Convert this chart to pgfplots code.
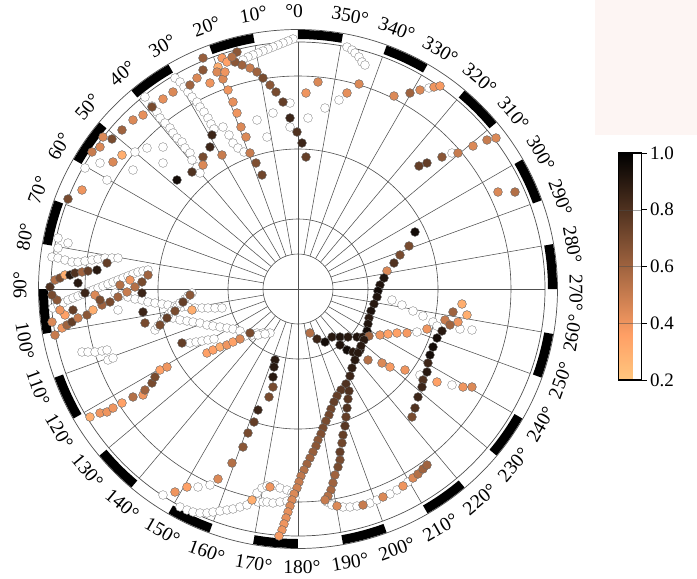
\documentclass[border=0pt]{standalone}
\usepackage{fontspec}
\setmainfont{Liberation Serif}
\usepackage{pgfplots}
\usepackage{pgfplotstable}
\pgfplotsset{compat=1.18}
\usepgfplotslibrary{polar}
\definecolor{pinkbg}{RGB}{253,245,243}
\definecolor{gridc}{RGB}{80,80,80}

\pgfplotsset{colormap={copperr}{rgb255(0cm)=(255,199,127); rgb255(2cm)=(255,159,101); rgb255(10cm)=(0,0,0)}}

\pgfplotstableread{
X Y C
237 52 0.65
242 65 0.60
250 68 0.50
257 72 0.60
263 78 0.70
270 85 0.65
276 92 0.70
283 102 0.75
290 118 0.85
297 132 0.80
302 143 0.85
306 157 0.75
223 79 0.45
228 90 0.40
233 102 0.42
237 113 0.40
241 127 0.45
246 137 0.45
250 153 0.50
256 163 0.68
262 175 0.72
203 58 0.62
203 70 0.65
197 78 0.45
190 85 0.60
218 67 0.30
217 72 0.45
225 72 0.40
222 58 0.38
227 62 0.35
235 62 0.65
210 83 0.40
232 57 0.55
173 92 0.45
163 99 0.42
152 107 0.70
143 115 0.42
133 120 0.45
122 130 0.60
112 139 0.70
103 137 0.45
100 147 0.45
92 152 0.50
113 162 0.45
122 155 0.30
82 190 0.40
68 199 0.70
177 180 0.95
212 135 0.85
210 147 0.85
203 157 0.70
203 165 0.45
192 172 0.80
222 155 0.50
306 93 0.40
318 82 0.45
347 93 0.42
359 84 0.45
394 96 0.45
410 93 0.60
420 90 0.45
434 87 0.40
440 86 0.38
419 166 0.75
427 163 0.75
442 157 0.65
458 153 0.50
473 146 0.45
487 140 0.50
496 138 0.45
498 192 0.45
515 192 0.55
415 232 0.95
409 246 0.70
400 255 0.70
394 263 0.80
387 271 0.45
384 278 0.92
380 285 0.92
378 291 0.95
377 297 0.92
374 304 0.90
371 311 0.93
369 318 0.90
368 324 0.92
367 331 0.95
310 333 0.55
317 339 0.85
325 342 0.95
332 337 0.90
340 337 0.92
348 337 0.90
357 337 0.92
363 337 0.90
369 336 0.60
380 335 0.40
388 334 0.35
397 333 0.35
407 333 0.38
427 329 0.40
445 320 0.50
453 312 0.60
462 304 0.30
467 315 0.30
458 322 0.40
340 345 0.92
347 350 0.95
353 352 0.90
360 350 0.90
368 360 0.55
382 363 0.45
390 367 0.38
405 370 0.40
437 382 0.35
463 387 0.40
472 387 0.45
450 325 0.60
442 331 0.90
437 338 0.95
433 347 0.95
430 355 0.95
428 363 0.85
427 372 0.90
423 380 0.80
422 387 0.85
418 397 0.85
415 408 0.80
412 417 0.70
364 340 0.90
361 346 0.90
358 353 0.90
355 360 0.90
352 368 0.88
350 376 0.85
346 384 0.80
341 390 0.78
337 396 0.75
334 402 0.75
331 409 0.72
329 415 0.72
326 421 0.70
323 428 0.70
321 434 0.68
318 440 0.65
316 446 0.65
313 452 0.62
310 458 0.60
307 464 0.60
304 470 0.55
301 476 0.52
299 482 0.50
297 488 0.48
294 494 0.45
292 500 0.45
290 506 0.45
288 512 0.42
286 518 0.42
284 524 0.40
282 530 0.40
279 536 0.38
349 391 0.80
348 399 0.78
347 408 0.80
346 417 0.75
345 426 0.78
343 435 0.75
342 443 0.72
340 452 0.75
340 460 0.70
338 467 0.70
335 475 0.60
333 483 0.60
331 490 0.58
328 496 0.55
325 500 0.50
337 506 0.45
363 505 0.50
383 497 0.45
403 486 0.40
413 478 0.45
418 474 0.55
423 469 0.60
427 465 0.60
275 360 0.90
274 367 0.90
273 377 0.90
273 387 0.70
269 397 0.70
258 410 0.85
254 422 0.75
248 433 0.70
243 447 0.65
232 463 0.55
218 479 0.45
175 492 0.40
187 487 0.35
252 500 0.30
270 487 0.40
182 343 0.75
207 353 0.35
213 350 0.35
220 347 0.30
227 345 0.40
233 342 0.35
240 339 0.45
250 333 0.70
143 312 0.85
145 323 0.70
192 310 0.30
160 325 0.70
167 318 0.75
175 311 0.70
183 302 0.75
190 295 0.65
90 417 0.30
100 413 0.40
107 412 0.40
113 408 0.40
122 403 0.35
133 397 0.55
143 395 0.40
145 390 0.60
152 383 0.70
155 377 0.70
160 370 0.35
167 367 0.40
50 287 0.80
55 280 0.55
60 278 0.70
65 275 0.30
70 275 0.90
75 273 0.80
82 272 0.60
88 271 0.75
97 270 0.90
107 263 0.75
78 283 0.90
85 293 0.85
55 335 0.50
62 328 0.40
67 325 0.60
72 322 0.75
78 318 0.50
87 315 0.65
93 310 0.30
102 305 0.60
110 302 0.70
118 297 0.60
127 292 0.50
135 287 0.55
142 282 0.70
148 275 0.60
65 315 0.35
73 310 0.75
142 293 0.85
52 322 0.45
57 300 0.65
60 310 0.40
52 295 0.70
95 295 0.45
120 285 0.55
130 280 0.40
100 300 0.70
}\colpts

\pgfplotstableread{
X Y
293 39
288 41
283 43
278 45
273 47
268 49
263 51
258 53
253 55
248 57
243 60
347 47
352 50
355 53
359 57
362 62
365 65
175 78
180 82
184 87
188 92
192 97
197 102
200 107
204 112
208 118
211 124
214 129
223 127
229 135
233 143
238 148
244 152
145 97
152 106
157 112
160 118
165 123
170 128
173 133
177 138
182 142
185 148
190 153
192 160
197 167
200 173
133 170
163 163
163 147
147 148
135 152
100 163
107 180
85 168
257 120
267 137
273 113
290 103
290 127
308 118
325 108
339 100
58 238
58 248
68 243
429 88
452 153
392 300
402 305
413 311
423 316
433 322
417 332
437 326
420 375
452 385
460 329
472 330
327 502
332 505
343 507
350 507
357 506
370 503
377 500
390 494
397 490
408 482
163 495
198 487
210 485
180 507
187 510
193 512
200 513
207 513
213 512
220 511
227 510
233 509
240 507
247 505
258 502
263 502
267 502
273 503
280 502
287 501
257 493
262 488
267 486
275 485
280 488
287 490
292 493
295 498
115 293
122 295
128 297
135 299
142 300
148 302
155 303
162 304
168 305
175 306
182 307
188 307
195 308
202 308
208 308
215 308
222 308
173 318
180 320
187 321
193 322
200 323
207 325
213 326
220 327
227 328
233 329
240 331
257 333
263 333
270 333
190 343
196 342
202 341
208 340
214 339
245 336
252 335
258 335
265 334
155 330
158 326
162 321
165 318
169 314
172 311
177 307
180 303
185 299
188 296
192 293
52 257
58 258
65 260
72 262
78 262
85 261
92 260
98 259
105 258
112 258
118 258
53 308
58 305
63 303
68 300
73 298
78 296
83 294
88 292
93 290
98 288
103 286
108 284
113 282
118 280
123 278
128 276
133 274
138 272
143 271
148 270
82 352
88 352
95 352
102 351
107 350
108 360
113 358
118 310
}\whitepts

\begin{document}
\begin{tikzpicture}
\useasboundingbox (-298pt,-290pt) rectangle (399pt,289pt);
\fill[pinkbg] (297pt,154pt) rectangle (399pt,289pt);
% radial circles
\foreach \r in {35,70,140,213} \draw[gridc, line width=0.6pt] (0,0) circle[radius=\r pt];
\draw[gridc, line width=0.7pt] (0,0) circle[radius=247pt];
\draw[gridc, line width=0.7pt] (0,0) circle[radius=259.5pt];
% spokes
\foreach \a in {0,10,...,350} \draw[gridc, line width=0.55pt] (\a:35pt) -- (\a:247pt);
\draw[gridc, line width=0.55pt] (-247pt,0) -- (247pt,0) (0,-247pt) -- (0,247pt);
% ring
\foreach \a in {100,120,...,440} {
  \pgfmathsetmacro{\b}{\a+10}
  \fill[black] (\a:250pt) arc[start angle=\a, end angle=\b, radius=250pt] -- (\b:259pt) arc[start angle=\b, end angle=\a, radius=259pt] -- cycle;
}
% angle labels
\foreach \p/\rot/\t in {0/0/\llap{°}0,10/10/10\rlap{°},20/20/20\rlap{°},30/30/30\rlap{°},40/40/40\rlap{°},50/50/50\rlap{°},60/60/60\rlap{°},70/70/70\rlap{°},80/80/80\rlap{°},90/90/90\rlap{°},100/280/100\rlap{°},110/290/110\rlap{°},120/300/120\rlap{°},130/310/130\rlap{°},140/320/140\rlap{°},150/330/150\rlap{°},160/340/160\rlap{°},170/350/170\rlap{°},180/360/180\rlap{°},190/370/190\rlap{°},200/380/200\rlap{°},210/390/210\rlap{°},220/400/220\rlap{°},230/410/230\rlap{°},240/420/240\rlap{°},250/430/250\rlap{°},260/440/260\rlap{°},270/270/270\rlap{°},280/280/280\rlap{°},290/290/290\rlap{°},300/300/300\rlap{°},310/310/310\rlap{°},320/320/320\rlap{°},330/330/330\rlap{°},340/340/340\rlap{°},350/350/350\rlap{°}} {
  \pgfmathsetmacro{\th}{90+\p}
  \node[rotate=\rot, font=\fontsize{19.5}{19.5}\selectfont, inner sep=0pt] at (\th:278pt) {\t};
}
\begin{polaraxis}[
  at={(0pt,0pt)}, anchor=center,
  scale only axis, width=494pt, height=494pt,
  xmin=0, xmax=360, ymin=0, ymax=247,
  hide axis, clip=false,
  colormap name=copperr, point meta min=0.2, point meta max=1,
]
\addplot[only marks, mark=*, mark size=4.4pt, mark options={fill=white, draw=black!45, line width=0.4pt}, data cs=cart]
  table[x expr=\thisrow{X}-298, y expr=289-\thisrow{Y}] {\whitepts};
\addplot[scatter, only marks, mark=*, mark size=4.4pt, point meta=explicit,
  scatter/use mapped color={draw=black!60, fill=mapped color}, mark options={line width=0.4pt}, data cs=cart]
  table[x expr=\thisrow{X}-298, y expr=289-\thisrow{Y}, meta=C] {\colpts};
\end{polaraxis}
\begin{axis}[
  at={(0pt,0pt)}, anchor=center, hide axis, scale only axis, width=1pt, height=1pt,
  xmin=0, xmax=1, ymin=0, ymax=1,
  colormap name=copperr, point meta min=0.2, point meta max=1,
  colorbar,
  colorbar style={
    at={(312pt,136pt)}, anchor=north west,
    scale only axis, width=23pt, height=227pt,
    ytick={0.2,0.4,0.6,0.8,1.0},
    yticklabels={0.2,0.4,0.6,0.8,1.0},
    yticklabel style={font=\fontsize{19}{19}\selectfont},
    ytick pos=right, tick align=outside, major tick length=5pt,
    tick style={black, line width=0.6pt},
    axis line style={black, line width=1.6pt},
    axis on top, ymajorgrids, grid style={black!70, line width=0.3pt, opacity=0.5},
  },
]
\addplot[draw=none] coordinates {(0.5,0.5)};
\end{axis}
\end{tikzpicture}
\end{document}
